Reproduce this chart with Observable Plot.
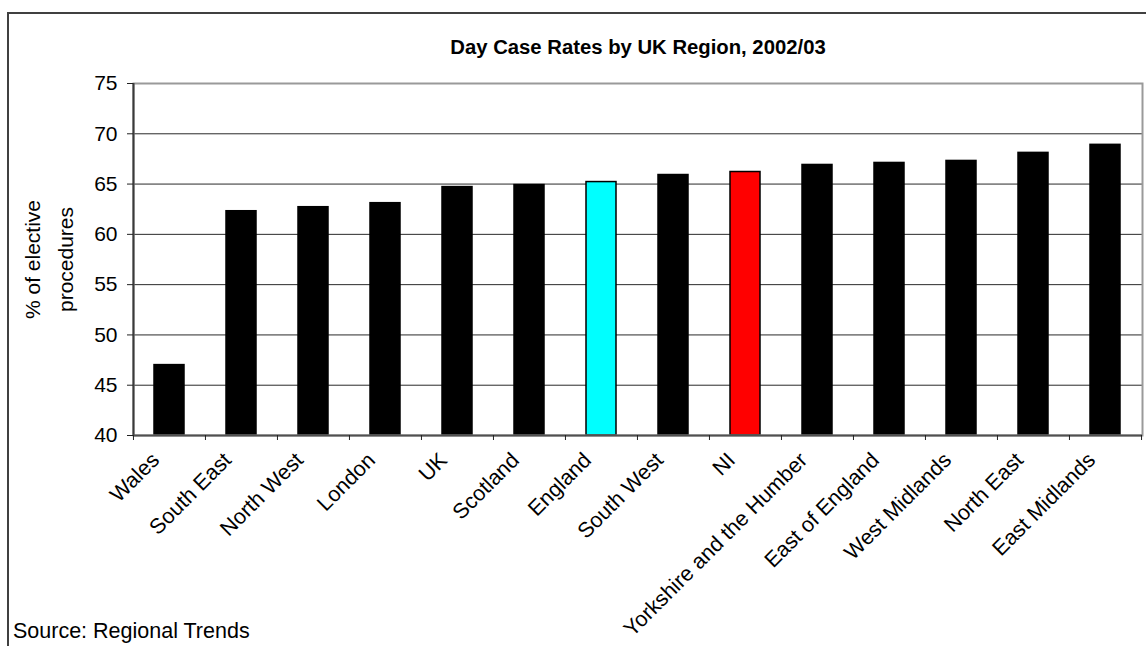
<!DOCTYPE html>
<html>
<head>
<meta charset="utf-8">
<script src="https://cdn.jsdelivr.net/npm/d3@7"></script>
<script src="https://cdn.jsdelivr.net/npm/@observablehq/plot@0.6"></script>
<style>
  html, body { margin: 0; padding: 0; background: #fff; overflow: hidden; }
  #chart { position: relative; width: 1146px; height: 646px; }
  #border { position: absolute; left: 7px; top: 12px; width: 1300px; height: 800px;
            border-left: 2px solid #404040; border-top: 2px solid #404040; }
  #chart svg { position: absolute; left: 0; top: 0; }
</style>
</head>
<body>
<div id="chart"><div id="border"></div></div>
<script>
// Day case rates (% of elective procedures), 2002/03, ordered from lowest to highest
const regions = ["Wales", "South East", "North West", "London", "UK", "Scotland", "England",
  "South West", "NI", "Yorkshire and the Humber", "East of England", "West Midlands",
  "North East", "East Midlands"];
const rates = [47.0, 62.3, 62.7, 63.1, 64.7, 64.9, 65.2, 65.9, 66.2, 66.9, 67.1, 67.3, 68.1, 68.9];

// Highlighted bars; everything else is black
const highlightColors = {England: "#00ffff", NI: "#ff0000"};
const defaultColor = "#000000";

const yMin = 40;
const yMax = 75;
const yTicks = [40, 45, 50, 55, 60, 65, 70, 75];
const gridValues = [45, 50, 55, 60, 65, 70];

const titleText = "Day Case Rates by UK Region, 2002/03";
const yLabel = "% of elective\nprocedures";
const sourceText = "Source: Regional Trends";

const data = regions.map((region, i) => ({region, rate: rates[i]}));

const width = 1146, height = 646;
const marginLeft = 133, marginRight = 4, marginTop = 83, marginBottom = 211;
// paddingOuter is half of paddingInner, so each band step is an equal slice of the frame
const step = (width - marginLeft - marginRight) / regions.length;
const font = "'Liberation Sans', Arial, sans-serif";

const chart = Plot.plot({
  width, height, marginLeft, marginRight, marginTop, marginBottom,
  style: {fontFamily: font, fontSize: "21px", color: "#000", background: "transparent"},
  x: {domain: regions, paddingInner: 0.583, paddingOuter: 0.2915, label: null},
  y: {domain: [yMin, yMax], label: null},
  marks: [
    Plot.ruleY(gridValues, {stroke: "#2a2a2a", strokeWidth: 1}),
    Plot.barY(data, {
      x: "region", y1: yMin, y2: "rate",
      fill: d => highlightColors[d.region] ?? defaultColor,
      stroke: "#000", strokeWidth: 1.5
    }),
    Plot.frame({stroke: "#9a9a9a", strokeWidth: 2}),
    Plot.ruleX([regions[0]], {dx: -step / 2, stroke: "#3a3a3a", strokeWidth: 2}),
    Plot.ruleY([yMin], {stroke: "#505050", strokeWidth: 2}),
    Plot.axisY(yTicks, {tickSize: 6, tickPadding: 10, label: null, stroke: "#222", fontSize: 21}),
    Plot.axisX({tickSize: 5, tickFormat: () => "", label: null, dx: -step / 2, stroke: "#222"}),
    Plot.axisX([regions[regions.length - 1]], {tickSize: 5, tickFormat: () => "", label: null, dx: step / 2, stroke: "#222"}),
    Plot.text(regions, {
      x: d => d, text: d => d, frameAnchor: "bottom", rotate: -45,
      textAnchor: "end", lineAnchor: "bottom", dx: -9, dy: 26, fontSize: 21.5, fill: "#000"
    }),
    Plot.text([yLabel], {
      frameAnchor: "left", rotate: -90, textAnchor: "middle", lineAnchor: "middle",
      lineHeight: 1.55, dx: -87.5, fontSize: 21, fill: "#000"
    }),
    Plot.text([titleText], {
      frameAnchor: "top", textAnchor: "middle", lineAnchor: "middle", dy: -36,
      fontSize: 20.3, fontWeight: "bold", fill: "#000"
    }),
    Plot.text([sourceText], {
      frameAnchor: "bottom-left", textAnchor: "start", lineAnchor: "bottom",
      dx: 12.5 - marginLeft, dy: 202.5, fontSize: 21.5, fill: "#000"
    })
  ]
});

document.getElementById("chart").appendChild(chart);
</script>
</body>
</html>
